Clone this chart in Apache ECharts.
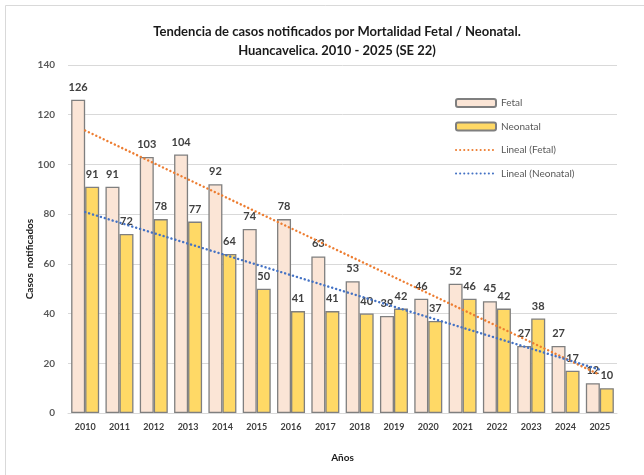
<!DOCTYPE html>
<html>
<head>
<meta charset="utf-8">
<script src="https://cdn.jsdelivr.net/npm/echarts@6/dist/echarts.min.js"></script>
<style>
  html, body { margin: 0; padding: 0; background: #fff; }
  #chart { width: 644px; height: 475px; }
</style>
</head>
<body>
<div id="chart"></div>
<script>
const years = ['2010','2011','2012','2013','2014','2015','2016','2017','2018','2019','2020','2021','2022','2023','2024','2025'];
const fetal = [126, 91, 103, 104, 92, 74, 78, 63, 53, 39, 46, 52, 45, 27, 27, 12];
const neonatal = [91, 72, 78, 77, 64, 50, 41, 41, 40, 42, 37, 46, 42, 38, 17, 10];
const yTicks = [0, 20, 40, 60, 80, 100, 120, 140];

// Least-squares linear trend over the category index
function linearTrend(values) {
  const n = values.length;
  let sx = 0, sy = 0, sxx = 0, sxy = 0;
  values.forEach((v, i) => { sx += i; sy += v; sxx += i * i; sxy += i * v; });
  const slope = (n * sxy - sx * sy) / (n * sxx - sx * sx);
  const icpt = (sy - slope * sx) / n;
  return values.map((_, i) => +(icpt + slope * i).toFixed(3));
}

const FONT = 'Lato';
const labelStyle = {
  show: true, position: 'top', distance: 7,
  fontFamily: FONT, fontSize: 11, fontWeight: 'bold', color: '#404040'
};
const dotted = { width: 2.4, type: [0.1, 4], cap: 'round' };

const chart = echarts.init(document.getElementById('chart'), null, { renderer: 'canvas' });
chart.setOption({
  backgroundColor: '#ffffff',
  animation: false,
  graphic: [{
    type: 'rect', silent: true,
    shape: { x: 5.5, y: 5.5, width: 660, height: 480 },
    style: { fill: 'none', stroke: '#D9D9D9', lineWidth: 1 }
  }],
  title: {
    text: 'Tendencia de casos notificados por Mortalidad Fetal / Neonatal.\nHuancavelica. 2010 - 2025 (SE 22)',
    left: 332, top: 17, textAlign: 'center',
    textStyle: { fontFamily: FONT, fontSize: 13, fontWeight: 'bold', color: '#1a1a1a', lineHeight: 19 }
  },
  legend: {
    orient: 'vertical', left: 450, top: 93, itemGap: 13.5,
    itemWidth: 40, itemHeight: 8,
    textStyle: { fontFamily: FONT, fontSize: 10, color: '#595959' },
    data: [
      { name: 'Fetal' },
      { name: 'Neonatal' },
      { name: 'Lineal (Fetal)', itemStyle: { opacity: 0 } },
      { name: 'Lineal (Neonatal)', itemStyle: { opacity: 0 } }
    ]
  },
  grid: { left: 68, right: 27, top: 65, bottom: 62 },
  xAxis: {
    type: 'category', data: years,
    name: 'Años', nameLocation: 'middle', nameGap: 40,
    nameTextStyle: { fontFamily: FONT, fontSize: 10, fontWeight: 'bold', color: '#1a1a1a' },
    axisLine: { lineStyle: { color: '#D9D9D9', width: 1 } },
    axisTick: { show: false },
    axisLabel: { fontFamily: FONT, fontSize: 9, fontWeight: 'bold', color: '#404040', margin: 10 }
  },
  yAxis: {
    type: 'value', min: yTicks[0], max: yTicks[yTicks.length - 1], interval: 20,
    name: 'Casos  notificados', nameLocation: 'middle', nameGap: 33, nameMoveOverlap: false,
    nameTextStyle: { fontFamily: FONT, fontSize: 10, fontWeight: 'bold', color: '#1a1a1a', padding: [0, 40, 0, 0] },
    axisLine: { show: false },
    axisTick: { show: false },
    axisLabel: { fontFamily: FONT, fontSize: 10, fontWeight: 'bold', color: '#595959', margin: 13 },
    splitLine: { lineStyle: { color: '#D9D9D9', width: 1 } }
  },
  series: [
    {
      name: 'Fetal', type: 'bar', data: fetal, barWidth: 14, barGap: '0%',
      itemStyle: { color: '#FBE5D6', borderColor: '#7F7F7F', borderWidth: 1.3 },
      label: labelStyle
    },
    {
      name: 'Neonatal', type: 'bar', data: neonatal, barWidth: 14,
      itemStyle: { color: '#FFD966', borderColor: '#7F7F7F', borderWidth: 1.3 },
      label: labelStyle
    },
    {
      name: 'Lineal (Fetal)', type: 'line', data: linearTrend(fetal),
      symbol: 'none', z: 5,
      itemStyle: { color: '#ED7D31' },
      lineStyle: Object.assign({ color: '#ED7D31' }, dotted)
    },
    {
      name: 'Lineal (Neonatal)', type: 'line', data: linearTrend(neonatal),
      symbol: 'none', z: 5,
      itemStyle: { color: '#4472C4' },
      lineStyle: Object.assign({ color: '#4472C4' }, dotted)
    }
  ]
});
</script>
</body>
</html>
